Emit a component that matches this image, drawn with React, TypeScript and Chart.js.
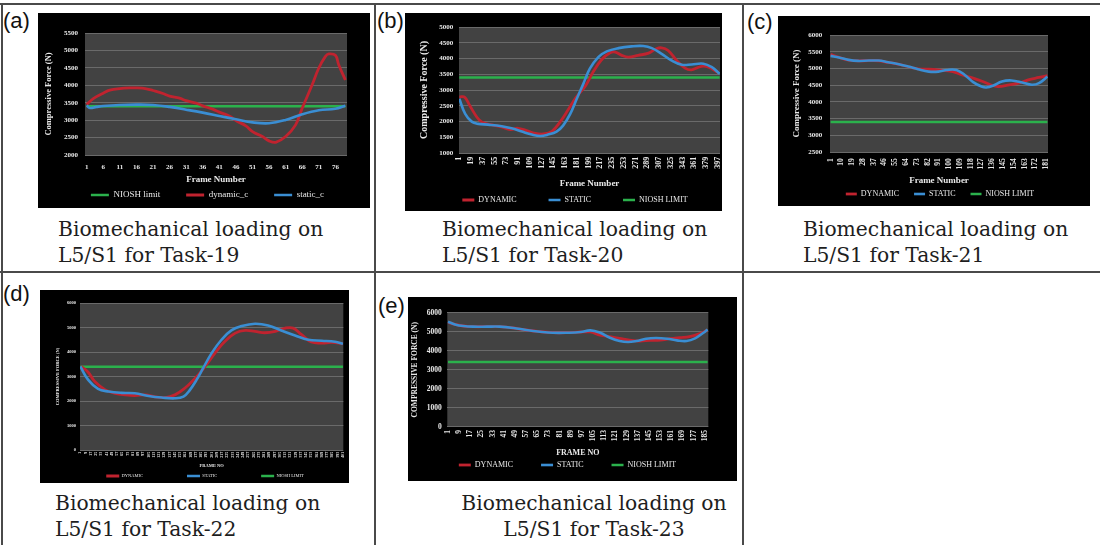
import React, { useEffect, useRef } from "react";
import { Chart, registerables } from "chart.js";

Chart.register(...registerables);

// ---------------- data ----------------
const NIOSH_LIMIT = 3400;

// (a) Task-19
const aFrameCount = 79;
const aXTicks = [1, 6, 11, 16, 21, 26, 31, 36, 41, 46, 51, 56, 61, 66, 71, 76];
const aYTicks = [2000, 2500, 3000, 3500, 4000, 4500, 5000, 5500];
const aDynFrames = [1, 3, 6, 8, 11, 14, 16, 19, 21, 24, 26, 29, 31, 34, 36, 39, 41, 44, 46, 49, 51, 54, 56, 58, 61, 64, 66, 69, 71, 73, 74, 76, 77, 79];
const aDynValues = [3450, 3620, 3775, 3860, 3905, 3925, 3925, 3900, 3850, 3765, 3690, 3630, 3560, 3490, 3410, 3315, 3230, 3120, 2990, 2835, 2670, 2530, 2405, 2365, 2530, 2865, 3345, 4015, 4495, 4830, 4900, 4860, 4590, 4150];
const aStaFrames = [1, 2, 4, 6, 11, 16, 21, 26, 31, 36, 41, 46, 51, 56, 61, 66, 71, 76, 79];
const aStaValues = [3420, 3350, 3380, 3405, 3435, 3445, 3435, 3380, 3300, 3215, 3120, 3025, 2935, 2910, 3005, 3170, 3285, 3325, 3410];

// (b) Task-20
const bFrameCount = 400;
const bXTicks = [1, 19, 37, 55, 73, 91, 109, 127, 145, 163, 181, 199, 217, 235, 253, 271, 289, 307, 325, 343, 361, 379, 397];
const bYTicks = [1000, 1500, 2000, 2500, 3000, 3500, 4000, 4500, 5000];
const bDynFrames = [1, 9, 17, 28, 36, 51, 66, 79, 91, 104, 117, 130, 143, 155, 168, 180, 194, 206, 219, 232, 240, 250, 260, 275, 291, 303, 311, 321, 334, 347, 357, 372, 383, 398];
const bDynValues = [2780, 2775, 2505, 2135, 1975, 1890, 1825, 1745, 1785, 1710, 1625, 1605, 1690, 1975, 2380, 2770, 3120, 3570, 3960, 4180, 4205, 4100, 4045, 4100, 4170, 4310, 4340, 4255, 3940, 3695, 3640, 3750, 3725, 3545];
const bStaFrames = [1, 10, 20, 30, 45, 66, 81, 97, 112, 125, 137, 150, 160, 171, 181, 191, 201, 214, 227, 245, 265, 283, 296, 311, 326, 342, 357, 375, 388, 400];
const bStaValues = [2720, 2240, 1995, 1925, 1900, 1850, 1785, 1680, 1585, 1540, 1585, 1680, 1870, 2240, 2720, 3195, 3675, 4045, 4225, 4330, 4385, 4395, 4330, 4150, 3940, 3800, 3810, 3835, 3725, 3515];

// (c) Task-21
const cFrameCount = 182;
const cXTicks = [1, 10, 19, 28, 37, 46, 55, 64, 73, 82, 91, 100, 109, 118, 127, 136, 145, 154, 163, 172, 181];
const cYTicks = [2500, 3000, 3500, 4000, 4500, 5000, 5500, 6000];
const cDynFrames = [1, 8, 16, 24, 33, 41, 49, 58, 66, 74, 83, 91, 103, 111, 120, 128, 136, 141, 150, 158, 166, 175, 182];
const cDynValues = [5420, 5330, 5250, 5225, 5235, 5230, 5180, 5120, 5050, 4985, 4975, 4955, 4905, 4805, 4710, 4610, 4490, 4460, 4510, 4560, 4660, 4730, 4785];
const cStaFrames = [1, 8, 16, 24, 33, 41, 49, 58, 66, 74, 83, 91, 98, 106, 113, 120, 127, 131, 137, 144, 152, 161, 169, 175, 182];
const cStaValues = [5375, 5325, 5255, 5225, 5235, 5235, 5185, 5125, 5055, 4975, 4905, 4905, 4955, 4955, 4805, 4590, 4460, 4430, 4490, 4610, 4640, 4580, 4510, 4560, 4755];

// (d) Task-22
const dFrameCount = 401;
const dXTicks = [1, 9, 17, 25, 33, 41, 49, 57, 65, 73, 81, 89, 97, 105, 113, 121, 129, 137, 145, 153, 161, 169, 177, 185, 193, 201, 209, 217, 225, 233, 241, 249, 257, 265, 273, 281, 289, 297, 305, 313, 321, 329, 337, 345, 353, 361, 369, 377, 385, 393, 401];
const dYTicks = [0, 1000, 2000, 3000, 4000, 5000, 6000];
const dDynFrames = [2, 13, 23, 39, 54, 69, 84, 100, 115, 130, 145, 160, 176, 191, 206, 221, 237, 252, 267, 282, 298, 313, 325, 338, 353, 369, 384, 401];
const dDynValues = [3410, 3175, 2795, 2455, 2315, 2250, 2220, 2250, 2165, 2140, 2250, 2520, 2930, 3410, 3955, 4430, 4770, 4880, 4840, 4785, 4840, 4975, 4975, 4705, 4405, 4365, 4390, 4335];
const dStaFrames = [1, 13, 28, 44, 64, 84, 105, 125, 145, 158, 168, 178, 188, 201, 216, 231, 247, 267, 287, 308, 328, 348, 369, 389, 401];
const dStaValues = [3410, 2860, 2495, 2385, 2330, 2315, 2205, 2140, 2110, 2180, 2455, 2860, 3340, 3955, 4500, 4880, 5060, 5155, 5085, 4870, 4675, 4500, 4460, 4415, 4335];

// (e) Task-23
const eFrameCount = 187;
const eXTicks = [1, 9, 17, 25, 33, 41, 49, 57, 65, 73, 81, 89, 97, 105, 113, 121, 129, 137, 145, 153, 161, 169, 177, 185];
const eYTicks = [0, 1000, 2000, 3000, 4000, 5000, 6000];
const eDynFrames = [1, 6, 12, 19, 29, 38, 48, 57, 67, 76, 86, 96, 103, 110, 117, 124, 131, 138, 146, 153, 160, 167, 174, 182, 187];
const eDynValues = [5500, 5380, 5300, 5265, 5265, 5265, 5195, 5090, 5000, 4950, 4950, 4985, 4985, 4825, 4735, 4650, 4560, 4510, 4545, 4560, 4630, 4685, 4735, 4910, 5090];
const eStaFrames = [1, 6, 12, 19, 29, 38, 48, 57, 67, 76, 86, 96, 103, 110, 117, 124, 130, 136, 143, 150, 158, 165, 172, 178, 184, 187];
const eStaValues = [5525, 5385, 5300, 5265, 5265, 5265, 5195, 5090, 5000, 4945, 4945, 4980, 5070, 4945, 4685, 4510, 4455, 4510, 4630, 4665, 4630, 4545, 4510, 4650, 4945, 5120];

// ---------------- styles ----------------
const RED = "#c0232f";
const BLUE = "#3a8ed3";
const GREEN = "#2bb14c";
const TEXT = "#e9e9e9";
const GRID = "#6a6a6a";
const PLOT_BG = "#424242";
const SERIF = "'Liberation Serif', 'Times New Roman', serif";

const bgPlugin = {
  id: "plotBg",
  beforeDraw(chart: any, _a: any, opts: any) {
    const { ctx, chartArea: ca, width, height } = chart;
    ctx.save();
    ctx.fillStyle = opts.outer || "#000";
    ctx.fillRect(0, 0, width, height);
    ctx.fillStyle = opts.inner || PLOT_BG;
    ctx.fillRect(ca.left, ca.top, ca.right - ca.left, ca.bottom - ca.top);
    ctx.restore();
  },
};

// places the legend row at a given vertical position / horizontal centre
const legendPlace = {
  id: "legendPlace",
  afterLayout(chart: any, _a: any, opts: any) {
    const lg = chart.legend;
    if (!lg || opts.top == null) return;
    lg.top = opts.top;
    lg.bottom = chart.height + 20;
    lg.height = lg.bottom - lg.top;
    const w = chart.width;
    lg.left = opts.cx - w / 2;
    lg.right = opts.cx + w / 2;
    lg.width = w;
  },
};

type Geo = {
  W: number; H: number; L: number; T: number; R: number; B: number;
  yTickRight: number; yTickSize: number; yTitleSize: number; yTitleCx: number;
  xTickPad: number; xTickSize: number; xRot: number; xTitleSize: number; xTitleCy: number;
  legSize: number; legPad: number; legBox: number; legCy: number; legCx: number;
};

type Series = { label: string; frames: number[]; values: number[]; color: string; width: number; order: number };

type Spec = {
  n: number; xTicks: number[]; yTicks: number[]; xTitle: string; yTitle: string;
  series: Series[]; geo: Geo;
};

function buildConfig(spec: Spec): any {
  const g = spec.geo;
  const Hx = g.H - 1 - g.B;
  const yTitleLh = g.yTitleSize * 1.2;
  const xTitleLh = g.xTitleSize * 1.2;
  const yMin = spec.yTicks[0];
  const yMax = spec.yTicks[spec.yTicks.length - 1];
  return {
    type: "line",
    data: {
      datasets: spec.series.map((s) => ({
        label: s.label,
        data: s.frames.map((f, j) => ({ x: f, y: s.values[j] })),
        borderColor: s.color,
        backgroundColor: s.color,
        borderWidth: s.width,
        pointRadius: 0,
        pointHoverRadius: 0,
        tension: 0.4,
        fill: false,
        order: s.order,
      })),
    },
    options: {
      animation: false,
      responsive: false,
      maintainAspectRatio: false,
      events: [],
      layout: { padding: { left: 0, top: g.T, right: g.W - g.R, bottom: 0 } },
      scales: {
        x: {
          type: "linear",
          min: 0.5,
          max: spec.n + 0.5,
          afterBuildTicks: (s: any) => {
            s.ticks = spec.xTicks.map((v) => ({ value: v }));
          },
          afterFit: (s: any) => {
            s.height = Hx;
            s.paddingLeft = 0;
            s.paddingRight = 0;
          },
          grid: { display: false, drawTicks: false },
          border: { display: false },
          ticks: {
            autoSkip: false,
            minRotation: g.xRot,
            maxRotation: g.xRot,
            padding: g.xTickPad,
            color: TEXT,
            font: { family: SERIF, size: g.xTickSize, weight: "bold" },
            callback: (v: any) => String(v),
          },
          title: {
            display: true,
            text: spec.xTitle,
            color: TEXT,
            font: { family: SERIF, size: g.xTitleSize, weight: "bold" },
            padding: { top: 0, bottom: g.H - 1 - xTitleLh / 2 - g.xTitleCy },
          },
        },
        y: {
          type: "linear",
          min: yMin,
          max: yMax,
          afterBuildTicks: (s: any) => {
            s.ticks = spec.yTicks.map((v) => ({ value: v }));
          },
          afterFit: (s: any) => {
            s.width = g.L;
            s.paddingTop = 0;
            s.paddingBottom = 0;
          },
          grid: { color: GRID, lineWidth: 1, drawTicks: false },
          border: { display: false },
          ticks: {
            padding: g.L - g.yTickRight,
            color: TEXT,
            font: { family: SERIF, size: g.yTickSize, weight: "bold" },
            callback: (v: any) => String(v),
          },
          title: {
            display: true,
            text: spec.yTitle,
            color: TEXT,
            font: { family: SERIF, size: g.yTitleSize, weight: "bold" },
            padding: { top: g.yTitleCx - yTitleLh / 2, bottom: 0 },
          },
        },
      },
      plugins: {
        legend: {
          display: true,
          position: "bottom",
          maxHeight: 1,
          labels: {
            usePointStyle: true,
            pointStyle: "line",
            pointStyleWidth: g.legBox,
            padding: g.legPad,
            color: TEXT,
            font: { family: SERIF, size: g.legSize },
            sort: (a: any, b: any) => a.datasetIndex - b.datasetIndex,
          },
        },
        tooltip: { enabled: false },
        plotBg: { outer: "#000", inner: PLOT_BG },
        legendPlace: { top: g.legCy - g.legPad - g.legSize / 2, cx: g.legCx },
      },
    },
    plugins: [bgPlugin, legendPlace],
  };
}

function ChartCanvas({ spec, left, top }: { spec: Spec; left: number; top: number }) {
  const ref = useRef<HTMLCanvasElement>(null);
  useEffect(() => {
    const chart = new Chart(ref.current as HTMLCanvasElement, buildConfig(spec));
    return () => chart.destroy();
  }, []);
  return (
    <canvas
      ref={ref}
      width={spec.geo.W}
      height={spec.geo.H}
      style={{ position: "absolute", left, top, width: spec.geo.W, height: spec.geo.H, display: "block" }}
    />
  );
}

const limitSeries = (n: number, label: string, order: number): Series => ({
  label,
  frames: [1, n],
  values: [NIOSH_LIMIT, NIOSH_LIMIT],
  color: GREEN,
  width: 2.5,
  order,
});

const specA: Spec = {
  n: aFrameCount, xTicks: aXTicks, yTicks: aYTicks,
  xTitle: "Frame Number", yTitle: "Compressive Force (N)",
  series: [
    limitSeries(aFrameCount, "NIOSH limit", 3),
    { label: "dynamic_c", frames: aDynFrames, values: aDynValues, color: RED, width: 2.8, order: 2 },
    { label: "static_c", frames: aStaFrames, values: aStaValues, color: BLUE, width: 2.6, order: 1 },
  ],
  geo: { W: 332, H: 195, L: 47, T: 20, R: 309, B: 142, yTickRight: 40, yTickSize: 7, yTitleSize: 8.5, yTitleCx: 10.3,
    xTickPad: 7.5, xTickSize: 7, xRot: 0, xTitleSize: 9, xTitleCy: 167, legSize: 9, legPad: 26, legBox: 18, legCy: 182, legCx: 169.5 },
};

const specB: Spec = {
  n: bFrameCount, xTicks: bXTicks, yTicks: bYTicks,
  xTitle: "Frame Number", yTitle: "Compressive Force (N)",
  series: [
    { label: "DYNAMIC", frames: bDynFrames, values: bDynValues, color: RED, width: 2.8, order: 2 },
    { label: "STATIC", frames: bStaFrames, values: bStaValues, color: BLUE, width: 2.6, order: 1 },
    limitSeries(bFrameCount, "NIOSH LIMIT", 3),
  ],
  geo: { W: 317, H: 198, L: 54, T: 14, R: 315, B: 140, yTickRight: 48.3, yTickSize: 7, yTitleSize: 10, yTitleCx: 19.3,
    xTickPad: 3.7, xTickSize: 8, xRot: 90, xTitleSize: 9, xTitleCy: 170.3, legSize: 8, legPad: 32, legBox: 12, legCy: 187, legCx: 170 },
};

const specC: Spec = {
  n: cFrameCount, xTicks: cXTicks, yTicks: cYTicks,
  xTitle: "Frame Number", yTitle: "Compressive Force (N)",
  series: [
    { label: "DYNAMIC", frames: cDynFrames, values: cDynValues, color: RED, width: 2.8, order: 2 },
    { label: "STATIC", frames: cStaFrames, values: cStaValues, color: BLUE, width: 2.6, order: 1 },
    limitSeries(cFrameCount, "NIOSH LIMIT", 3),
  ],
  geo: { W: 312, H: 190, L: 52, T: 19, R: 270, B: 136, yTickRight: 44.3, yTickSize: 7, yTitleSize: 9, yTitleCx: 18.7,
    xTickPad: 6.3, xTickSize: 7.5, xRot: 90, xTitleSize: 9, xTitleCy: 165, legSize: 8, legPad: 15, legBox: 11, legCy: 178, legCx: 162 },
};

const specD: Spec = {
  n: dFrameCount, xTicks: dXTicks, yTicks: dYTicks,
  xTitle: "FRAME NO", yTitle: "COMPRESSIVE FORCE (N)",
  series: [
    { label: "DYNAMIC", frames: dDynFrames, values: dDynValues, color: RED, width: 2.8, order: 2 },
    { label: "STATIC", frames: dStaFrames, values: dStaValues, color: BLUE, width: 2.6, order: 1 },
    limitSeries(dFrameCount, "NIOSH LIMIT", 3),
  ],
  geo: { W: 309, H: 193, L: 40, T: 13, R: 303.3, B: 160, yTickRight: 36, yTickSize: 4.5, yTitleSize: 4.5, yTitleCx: 18.3,
    xTickPad: 1.7, xTickSize: 4, xRot: 90, xTitleSize: 4.5, xTitleCy: 176, legSize: 4.5, legPad: 44, legBox: 13, legCy: 186, legCx: 165 },
};

const specE: Spec = {
  n: eFrameCount, xTicks: eXTicks, yTicks: eYTicks,
  xTitle: "FRAME NO", yTitle: "COMPRESSIVE FORCE (N)",
  series: [
    { label: "DYNAMIC", frames: eDynFrames, values: eDynValues, color: RED, width: 2.8, order: 2 },
    { label: "STATIC", frames: eStaFrames, values: eStaValues, color: BLUE, width: 2.6, order: 1 },
    limitSeries(eFrameCount, "NIOSH LIMIT", 3),
  ],
  geo: { W: 329, H: 184, L: 39.3, T: 15.7, R: 300.3, B: 129.7, yTickRight: 33.7, yTickSize: 7.5, yTitleSize: 7.5, yTitleCx: 7,
    xTickPad: 3.3, xTickSize: 7.5, xRot: 90, xTitleSize: 8, xTitleCy: 156.3, legSize: 8, legPad: 28, legBox: 12, legCy: 168, legCx: 159.5 },
};

const LINE = "#4a4a4a";
const captionStyle: React.CSSProperties = {
  position: "absolute",
  fontFamily: "'DejaVu Serif', serif",
  fontSize: 20.3,
  lineHeight: "26px",
  color: "#1e1e1e",
  whiteSpace: "nowrap",
};
const tagStyle: React.CSSProperties = {
  position: "absolute",
  fontFamily: "'Liberation Sans', Arial, sans-serif",
  fontSize: 22,
  lineHeight: "normal",
  color: "#111",
};

function Caption({ left, top, task, center }: { left: number; top: number; task: string; center?: boolean }) {
  return (
    <div style={{ ...captionStyle, left, top, textAlign: center ? "center" : "left", width: center ? 400 : undefined }}>
      <div>Biomechanical loading on</div>
      <div>{`L5/S1 for Task-${task}`}</div>
    </div>
  );
}

export default function App() {
  return (
    <div style={{ position: "absolute", left: 0, top: 0, width: 1100, height: 545, background: "#fff", overflow: "hidden" }}>
      {/* table rules */}
      <div style={{ position: "absolute", left: 0, top: 3, width: 1100, height: 2, background: LINE }} />
      <div style={{ position: "absolute", left: 0, top: 271, width: 1100, height: 2, background: LINE }} />
      <div style={{ position: "absolute", left: 1, top: 3, width: 2, height: 542, background: LINE }} />
      <div style={{ position: "absolute", left: 374, top: 3, width: 2, height: 542, background: LINE }} />
      <div style={{ position: "absolute", left: 742, top: 3, width: 2, height: 542, background: LINE }} />

      <div style={{ ...tagStyle, left: 3, top: 8 }}>(a)</div>
      <div style={{ ...tagStyle, left: 377, top: 8 }}>(b)</div>
      <div style={{ ...tagStyle, left: 747, top: 9 }}>(c)</div>
      <div style={{ ...tagStyle, left: 3, top: 281 }}>(d)</div>
      <div style={{ ...tagStyle, left: 378, top: 293 }}>(e)</div>

      <ChartCanvas spec={specA} left={38} top={13} />
      <ChartCanvas spec={specB} left={405} top={13} />
      <ChartCanvas spec={specC} left={778} top={16} />
      <ChartCanvas spec={specD} left={40} top={290} />
      <ChartCanvas spec={specE} left={408} top={297} />

      <Caption left={58} top={216} task="19" />
      <Caption left={442} top={216} task="20" />
      <Caption left={803} top={216} task="21" />
      <Caption left={55} top={490} task="22" />
      <Caption left={394} top={490} task="23" center />
    </div>
  );
}
